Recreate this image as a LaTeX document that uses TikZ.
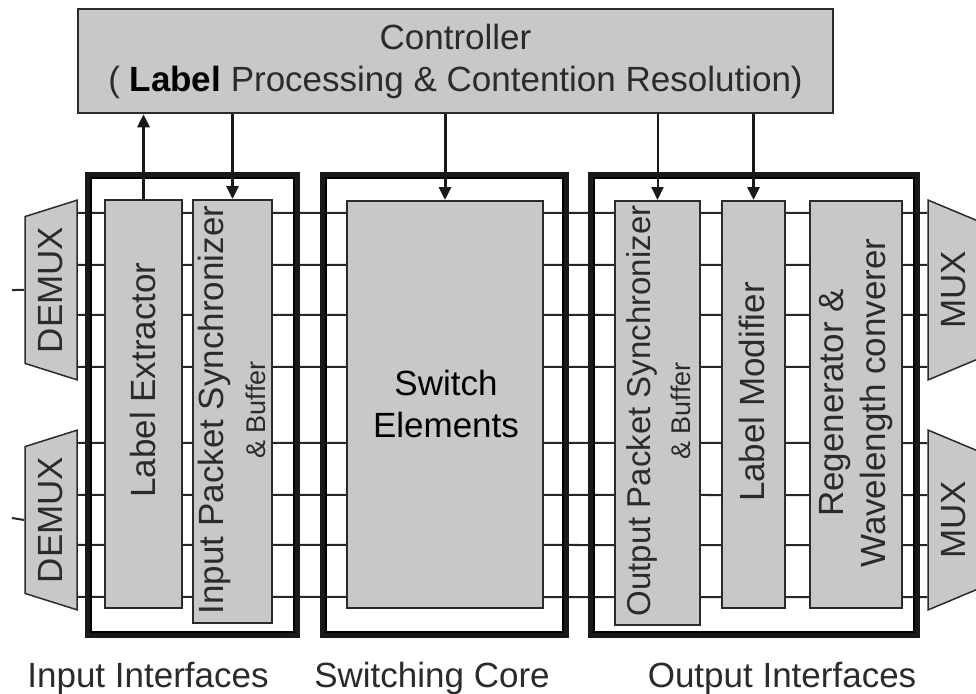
\documentclass[tikz,border=0pt]{standalone}
\usepackage{fontspec}
\setmainfont{Liberation Sans}
\usetikzlibrary{arrows.meta,positioning,calc,shapes.geometric}
\definecolor{boxgray}{HTML}{C8C8C8}
\definecolor{inkgray}{HTML}{2B2B2B}
\newcommand{\lblfont}{\fontsize{35pt}{42pt}\selectfont}
\newcommand{\bufferfont}{\fontsize{27pt}{30pt}\selectfont}

\begin{document}
\begin{tikzpicture}[
  x=1pt, y=-1pt,
  font=\lblfont, text=inkgray,
  box/.style={draw=inkgray, line width=2pt, fill=boxgray, inner sep=0pt},
  vtext/.style={rotate=90, align=center, inner sep=0pt},
  frame/.style={draw=black!90, line width=6pt, inner sep=0pt, minimum height=460pt},
  chan/.style={draw=black!85, line width=2pt},
  mux/.style={trapezium, trapezium stretches=true, draw=inkgray, line width=1.5pt,
              fill=boxgray, rotate=90, inner sep=0pt,
              minimum width=180pt, minimum height=52pt},
  arrow/.style={-{Triangle[length=13pt,width=12pt]}, line width=3pt, draw=black!90}
]
\useasboundingbox (0,0) rectangle (976,693);

% demultiplexers and multiplexers
\node[mux] (dmx1) at (51,290) {DEMUX};
\node[mux] (dmx2) at (51,520) {DEMUX};
\node[mux, trapezium left angle=117, trapezium right angle=117] (mx1) at (954,290) {MUX};
\node[mux, trapezium left angle=117, trapezium right angle=117] (mx2) at (954,520) {MUX};
\coordinate (in1) at (12,290);
\coordinate (in2) at (12,518);
\draw[chan] (in1) -- (dmx1.north);
\draw[chan] (in2) -- (dmx2.north);

% wavelength channels
\foreach \d in {-77,-25,25,77} {
  \draw[chan] ($(dmx1.south)+(0,\d)$) -- ($(mx1.north)+(0,\d)$);
  \draw[chan] ($(dmx2.south)+(0,\d)$) -- ($(mx2.north)+(0,\d)$);
}

% interface frames
\node[frame, minimum width=209pt] (inif) at (192.5,405) {};
\node[frame, minimum width=243pt] (swcore) at (444.5,405) {};
\node[frame, minimum width=326pt] (outif) at (754,405) {};
\foreach \f in {inif,swcore,outif}
  \draw[line width=1.5pt] ([shift={(6,6)}]\f.north west) rectangle ([shift={(-6,-6)}]\f.south east);

% function blocks
\node[box, minimum width=77pt, minimum height=408pt] (lext) at (143.5,404) {};
\node[box, minimum width=79pt, minimum height=423pt] (ipsync) at (232.5,411.5) {};
\node[box, minimum width=196pt, minimum height=407pt] (swel) at (445,404.5) {};
\node[box, minimum width=85pt, minimum height=424pt] (opsync) at (657.5,413) {};
\node[box, minimum width=63pt, minimum height=407pt] (lmod) at (753.5,404.5) {};
\node[box, minimum width=92pt, minimum height=407pt] (regen) at (856,404.5) {};

\node[vtext] (lexttxt) at (143,380) {Label Extractor};
\node[vtext] (ipsynctxt) at (232,410) {Input Packet Synchronizer\\{\bufferfont\& Buffer}};
\node[align=center, inner sep=0pt, text=black] (sweltxt) at (446,404) {Switch\\Elements};
\node[vtext, font=\fontsize{33pt}{40pt}\selectfont] (opsynctxt) at (659,411)
  {Output Packet Synchronizer\\{\bufferfont\& Buffer}};
\node[vtext] (lmodtxt) at (752,392) {Label Modifier};
\node[vtext] (regentxt) at (856,403) {Regenerator \&\\Wavelength converer};

% controller
\node[box, line width=2.5pt, align=center, minimum width=755pt, minimum height=104pt]
  (ctrl) at (455.5,61) {Controller\\( \textbf{\textcolor{black}{Label}} Processing \& Contention Resolution)};

\draw[arrow] (lext.north) -- (lext.north |- ctrl.south);
\draw[arrow] (ctrl.south -| ipsync.north) -- (ipsync.north);
\draw[arrow] (ctrl.south -| swel.north) -- (swel.north);
\draw[arrow, line width=2pt] (ctrl.south -| opsync.north) -- (opsync.north);
\draw[arrow] (ctrl.south -| lmod.north) -- (lmod.north);

% section titles
\node[anchor=base] (inlbl) at (148,687) {Input Interfaces};
\node[anchor=base] (swlbl) at (432,687) {Switching Core};
\node[anchor=base] (outlbl) at (782,687) {Output Interfaces};
\end{tikzpicture}
\end{document}
